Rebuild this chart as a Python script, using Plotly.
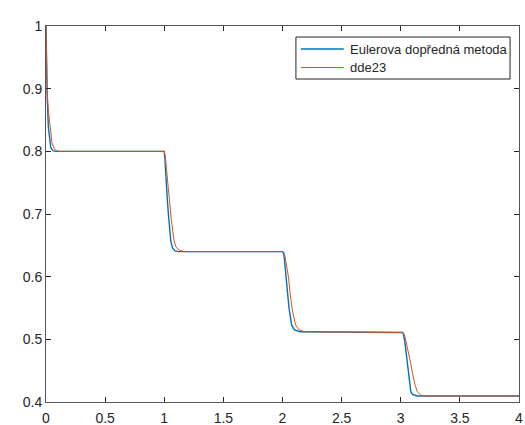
import plotly.graph_objects as go

# Euler forward method (blue)
euler_t = [0.0, 0.005, 0.01, 0.02, 0.03, 0.04, 0.05, 0.06, 0.08,
           1.0, 1.005, 1.01, 1.02, 1.027, 1.035, 1.045, 1.055, 1.07, 1.09, 1.125,
           2.0, 2.007, 2.015, 2.025, 2.04, 2.055, 2.077, 2.1, 2.15,
           3.0, 3.015, 3.023, 3.035, 3.057, 3.07, 3.085, 3.1, 3.14, 4.0]
euler_y = [1.0, 0.932, 0.887, 0.838, 0.816, 0.807, 0.803, 0.801, 0.8,
           0.8, 0.79, 0.77, 0.74, 0.72, 0.70, 0.675, 0.657, 0.646, 0.641, 0.64,
           0.64, 0.638, 0.63, 0.61, 0.576, 0.55, 0.523, 0.515, 0.512,
           0.512, 0.511, 0.508, 0.495, 0.461, 0.44, 0.4165, 0.412, 0.4096, 0.4096]

# dde23 (orange)
dde_t = [0.0, 0.005, 0.01, 0.02, 0.03, 0.04, 0.05, 0.07, 0.09, 0.11,
         1.0, 1.01, 1.02, 1.03, 1.044, 1.06, 1.083, 1.1, 1.13, 1.17,
         2.0, 2.01, 2.02, 2.035, 2.05, 2.063, 2.08, 2.11, 2.14, 2.19,
         3.0, 3.02, 3.035, 3.05, 3.07, 3.085, 3.1, 3.12, 3.14, 3.17, 3.2, 4.0]
dde_y = [1.0, 0.94, 0.895, 0.865, 0.846, 0.828, 0.814, 0.804, 0.801, 0.8,
         0.8, 0.79, 0.77, 0.75, 0.72, 0.69, 0.657, 0.647, 0.642, 0.64,
         0.64, 0.639, 0.634, 0.62, 0.6, 0.576, 0.55, 0.523, 0.515, 0.512,
         0.512, 0.511, 0.505, 0.493, 0.475, 0.461, 0.445, 0.428, 0.4165, 0.411, 0.4096, 0.4096]

series_names = ["Eulerova dopředná metoda", "dde23"]
series_colors = ["#0072BD", "#D95319"]

x_ticks = [0, 0.5, 1, 1.5, 2, 2.5, 3, 3.5, 4]
x_labels = ["0", "0.5", "1", "1.5", "2", "2.5", "3", "3.5", "4"]
y_ticks = [0.4, 0.5, 0.6, 0.7, 0.8, 0.9, 1.0]
y_labels = ["0.4", "0.5", "0.6", "0.7", "0.8", "0.9", "1"]

FONT = "Liberation Sans, Arial, sans-serif"
TXT = "#262626"

fig = go.Figure()
fig.add_trace(go.Scatter(x=euler_t, y=euler_y, mode="lines", name=series_names[0],
                         line=dict(color=series_colors[0], width=1.4), showlegend=False))
fig.add_trace(go.Scatter(x=dde_t, y=dde_y, mode="lines", name=series_names[1],
                         line=dict(color=series_colors[1], width=1), showlegend=False))

axis_common = dict(showline=True, linecolor="#555555", linewidth=1, mirror="ticks",
                   ticks="inside", ticklen=5, tickcolor="#262626", tickwidth=1,
                   showgrid=False, zeroline=False,
                   tickfont=dict(family=FONT, size=14, color=TXT))

fig.update_xaxes(range=[0, 4], tickvals=x_ticks, ticktext=x_labels,
                 ticklabelstandoff=3, **axis_common)
fig.update_yaxes(range=[0.4, 1.0], tickvals=y_ticks, ticktext=y_labels, **axis_common)

# Legend box drawn in paper coordinates (MATLAB-style compact legend)
box = dict(x0=0.5284, x1=0.9811, y0=0.859, y1=0.9707)
fig.add_shape(type="rect", xref="paper", yref="paper", **box,
              line=dict(color=TXT, width=1), fillcolor="white", layer="above")
row_y = [0.9388, 0.8896]
for name, color, yy, w in zip(series_names, series_colors, row_y, [1.4, 1]):
    fig.add_shape(type="line", xref="paper", yref="paper", x0=0.5389, x1=0.6295,
                  y0=yy, y1=yy, line=dict(color=color, width=w), layer="above")
    fig.add_annotation(xref="paper", yref="paper", x=0.6379, y=yy, text=name,
                       showarrow=False, xanchor="left", yanchor="middle",
                       font=dict(family=FONT, size=13, color=TXT))

fig.update_layout(
    width=525, height=425,
    margin=dict(l=46, r=6, t=26, b=23, autoexpand=False),
    paper_bgcolor="white", plot_bgcolor="white",
    showlegend=False,
)

fig.write_html("out.html", config={"displayModeBar": False},
               post_script="document.body.style.margin='0';document.body.style.overflow='hidden';")
